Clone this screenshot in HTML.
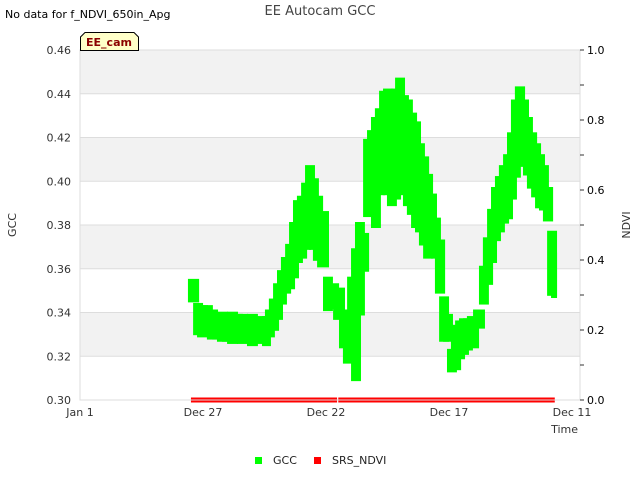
<!DOCTYPE html>
<html><head><meta charset="utf-8"><style>
body{margin:0;background:#fff;font-family:"Liberation Sans","DejaVu Sans",sans-serif}
svg text{font-family:"DejaVu Sans","Liberation Sans",sans-serif}
</style></head><body>
<svg id="c" width="640" height="480" xmlns="http://www.w3.org/2000/svg">
<text x="5" y="18" font-size="11" fill="#000">No data for f_NDVI_650in_Apg</text>
<text x="320" y="15" font-size="13" fill="#444" text-anchor="middle">EE Autocam GCC</text>
<g id="bands"></g>
<g id="grid"></g>
<rect x="80" y="50" width="500" height="350" fill="none" stroke="#ddd"/>
<g id="yticks"></g>
<g id="y2ticks"></g>
<g id="xticks"></g>
<g id="pts"></g>
<g id="ndvi"></g>
<text x="16" y="225" font-size="11" fill="#333" text-anchor="middle" transform="rotate(-90 16 225)">GCC</text>
<text x="630" y="225" font-size="11" fill="#333" text-anchor="middle" transform="rotate(-90 630 225)">NDVI</text>
<text x="578" y="433" font-size="11" fill="#333" text-anchor="end">Time</text>
<g>
<path d="M80.5,50.5 L80.5,37 L85,32.5 L134,32.5 L138.5,37 L138.5,50.5 Z" fill="#ffffc8" stroke="#000"/>
<text x="109" y="46" font-size="11" font-weight="bold" fill="#8b0000" text-anchor="middle">EE_cam</text>
</g>
<g>
<rect x="255" y="457" width="7" height="7" fill="#00ff00"/>
<text x="273" y="464" font-size="11" fill="#222">GCC</text>
<rect x="314" y="457" width="7" height="7" fill="#ff0000"/>
<text x="332" y="464" font-size="11" fill="#222">SRS_NDVI</text>
</g>
</svg>
<script>
const days=[4.51,4.72,4.88,5.08,5.28,5.49,5.69,5.89,6.10,6.30,6.50,6.71,6.91,7.11,7.32,7.52,7.64,7.80,7.97,8.13,8.29,8.46,8.62,8.78,8.94,9.11,9.27,9.43,9.59,9.76,10.00,10.16,10.41,10.65,10.81,10.98,11.14,11.30,11.46,11.63,11.79,11.95,12.11,12.28,12.44,12.60,12.76,12.93,13.09,13.25,13.41,13.58,13.74,13.90,14.07,14.23,14.39,14.55,14.72,14.88,15.04,15.20,15.37,15.53,15.69,15.85,16.10,16.34,16.50,16.67,16.83,16.99,17.15,17.32,17.48,17.64,17.80,17.97,18.13,18.29,18.46,18.62,18.78,18.94,19.11,19.27];
const gccHigh=[0.354,0.343,0.342,0.342,0.340,0.338,0.339,0.338,0.339,0.338,0.338,0.337,0.338,0.336,0.337,0.337,0.340,0.345,0.352,0.358,0.364,0.370,0.380,0.390,0.392,0.398,0.406,0.400,0.392,0.385,0.355,0.352,0.350,0.340,0.330,0.355,0.368,0.380,0.375,0.418,0.422,0.428,0.432,0.440,0.441,0.437,0.441,0.446,0.438,0.436,0.430,0.426,0.416,0.410,0.402,0.393,0.382,0.372,0.346,0.338,0.322,0.333,0.335,0.336,0.336,0.337,0.340,0.360,0.373,0.386,0.396,0.401,0.406,0.411,0.421,0.436,0.442,0.436,0.428,0.421,0.416,0.411,0.406,0.396,0.376,0.366];
const gccLow=[0.346,0.331,0.330,0.331,0.329,0.329,0.328,0.328,0.327,0.328,0.327,0.328,0.326,0.327,0.328,0.326,0.330,0.333,0.338,0.345,0.350,0.352,0.357,0.364,0.366,0.370,0.374,0.370,0.365,0.362,0.342,0.343,0.338,0.325,0.318,0.320,0.310,0.340,0.360,0.385,0.388,0.380,0.395,0.398,0.395,0.390,0.393,0.398,0.395,0.390,0.386,0.380,0.378,0.372,0.366,0.368,0.366,0.350,0.328,0.328,0.314,0.315,0.320,0.322,0.324,0.325,0.334,0.345,0.354,0.364,0.374,0.378,0.382,0.384,0.393,0.403,0.408,0.408,0.404,0.398,0.394,0.389,0.388,0.383,0.349,0.348];
const ndviStart=[4.51,10.50];
const ndviEnd=[10.45,19.30];
const ndviVals=[0,0];
const yTicks=[0.30,0.32,0.34,0.36,0.38,0.40,0.42,0.44,0.46];
const y2Ticks=[0.0,0.2,0.4,0.6,0.8,1.0];
const xTickDays=[0,5,10,15,20];
const xTickLabels=["Jan 1","Dec 27","Dec 22","Dec 17","Dec 11"];

const NS="http://www.w3.org/2000/svg";
const X=d=>80+d*24.6;
const Y=v=>400-(v-0.30)/0.16*350;
const Y2=v=>400-v*350;
function mk(tag,attrs,parent,text){const e=document.createElementNS(NS,tag);for(const k in attrs)e.setAttribute(k,attrs[k]);if(text!==undefined)e.textContent=text;document.getElementById(parent).appendChild(e);return e;}
for(let i=0;i<yTicks.length-1;i++){
  if(i%2===1){const r=mk('rect',{x:80,y:Y(yTicks[i+1]),width:500,height:Y(yTicks[i])-Y(yTicks[i+1]),fill:'#f2f2f2'},'bands');
  
  }
}
yTicks.forEach(v=>{
  const l=mk('line',{x1:80,x2:580,y1:Y(v),y2:Y(v),stroke:'#ddd'},'grid');
  
  
  const t=mk('text',{x:71,y:Y(v)+4,'font-size':11,fill:'#333','text-anchor':'end'},'yticks',v.toFixed(2));
  
  
});
y2Ticks.forEach(v=>{
  const t=mk('text',{x:587,y:Y2(v)+4,'font-size':11,fill:'#000'},'y2ticks',v.toFixed(1));
  
  
});
for(let v=0;v<=1.0001;v+=0.1){
  const l=mk('line',{x1:580,x2:584,y1:Y2(v),y2:Y2(v),stroke:'#333'},'y2ticks');
  
  
}
xTickDays.forEach((d,i)=>{
  const t=mk('text',{x:X(d)-(i===0?0:0),y:416,'font-size':11,fill:'#333','text-anchor':'middle'},'xticks',xTickLabels[i]);
  
  
});
days.forEach((d,i)=>{
  const x0=X(d)-3;
  const x1=i<days.length-1?Math.min(X(days[i+1]),X(d)+8)+3:X(d)+3;
  const r=mk('rect',{x:x0,y:Y(gccHigh[i])-3,width:x1-x0,height:Y(gccLow[i])-Y(gccHigh[i])+6,fill:'#00ff00'},'pts');
  
  
});
ndviStart.forEach((s,i)=>{
  [-1.5,1.5].forEach(off=>{
    const l=mk('line',{x1:X(s),x2:X(ndviEnd[i]),y1:Y2(ndviVals[i])+off,y2:Y2(ndviVals[i])+off,stroke:'#ff0000','stroke-width':2},'ndvi');
    
    
  });
});
</script>
</body></html>
